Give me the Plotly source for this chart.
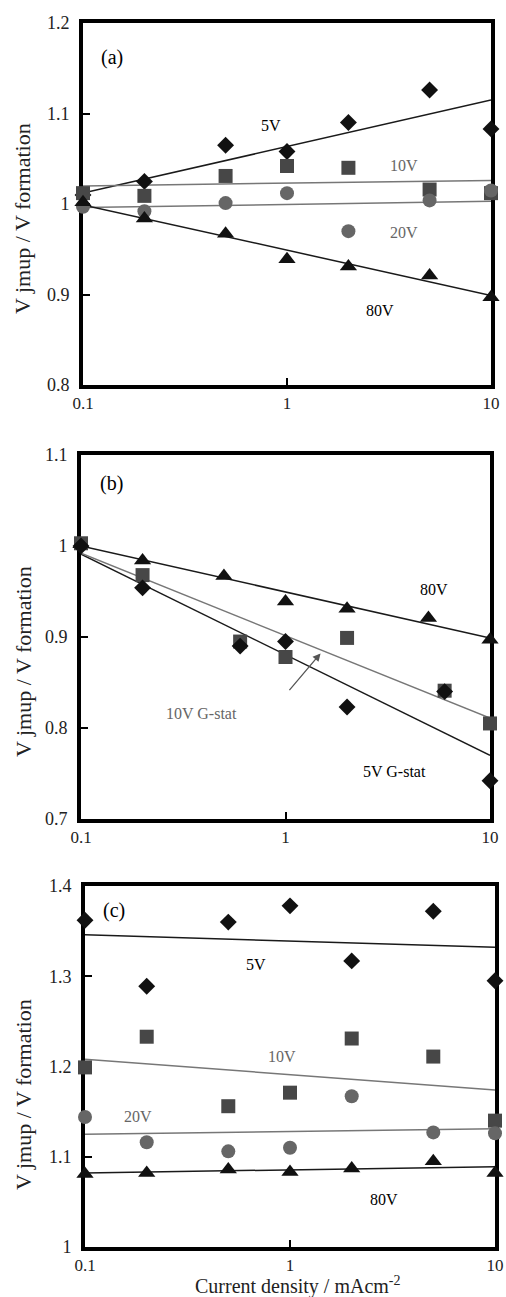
import numpy as np
import plotly.graph_objects as go

# ---------------- data ----------------
x_std = [0.1, 0.2, 0.5, 1, 2, 5, 10]
x_gstat = [0.1, 0.2, 0.6, 1, 2, 6, 10]
fit_x = [0.1, 10]
x_ticks = [0.1, 1, 10]
x_ticktext = ["0.1", "1", "10"]

# panel (a)
a_5V = [1.010, 1.025, 1.065, 1.058, 1.090, 1.126, 1.083]
a_10V = [1.012, 1.009, 1.031, 1.042, 1.040, 1.016, 1.012]
a_20V = [0.997, 0.992, 1.001, 1.012, 0.970, 1.004, 1.015]
a_80V = [1.002, 0.984, 0.967, 0.939, 0.931, 0.921, 0.897]
a_fit_5V = [1.012, 1.115]
a_fit_10V = [1.020, 1.026]
a_fit_20V = [0.996, 1.003]
a_fit_80V = [0.999, 0.899]

# panel (b)
b_5V = [1.000, 0.954, 0.890, 0.895, 0.823, 0.840, 0.742]
b_10V = [1.003, 0.968, 0.895, 0.878, 0.899, 0.841, 0.805]
b_80V = [1.002, 0.984, 0.967, 0.939, 0.931, 0.921, 0.897]
b_fit_5V = [0.991, 0.770]
b_fit_10V = [0.992, 0.811]
b_fit_80V = [1.000, 0.899]

# panel (c)
c_5V = [1.362, 1.289, 1.360, 1.378, 1.317, 1.372, 1.295]
c_10V = [1.199, 1.233, 1.156, 1.171, 1.231, 1.211, 1.140]
c_20V = [1.144, 1.116, 1.106, 1.110, 1.167, 1.127, 1.126]
c_80V = [1.081, 1.082, 1.086, 1.083, 1.087, 1.095, 1.082]
c_fit_5V = [1.346, 1.332]
c_fit_10V = [1.208, 1.174]
c_fit_20V = [1.125, 1.131]
c_fit_80V = [1.082, 1.089]

# ---------------- style ----------------
FONT = "Liberation Serif"
BLACK = "#111111"
DARK = "#474747"
MID = "#666666"
LINE_DARK = "#1a1a1a"
LINE_GRAY = "#777777"
TXT_GRAY = "#666666"

fig = go.Figure()


def add_line(xa, ya, y, color):
    fig.add_trace(go.Scatter(x=fit_x, y=y, mode="lines", xaxis=xa, yaxis=ya,
                             line=dict(color=color, width=1.5),
                             hoverinfo="skip", showlegend=False))


def add_pts(xa, ya, x, y, symbol, color, size):
    fig.add_trace(go.Scatter(x=x, y=y, mode="markers", xaxis=xa, yaxis=ya,
                             cliponaxis=False,
                             marker=dict(symbol=symbol, color=color, size=size,
                                         line=dict(width=0)),
                             showlegend=False))


# panel a
add_line("x", "y", a_fit_5V, LINE_DARK)
add_line("x", "y", a_fit_10V, LINE_GRAY)
add_line("x", "y", a_fit_20V, LINE_GRAY)
add_line("x", "y", a_fit_80V, LINE_DARK)
add_pts("x", "y", x_std, a_5V, "diamond", BLACK, 13)
add_pts("x", "y", x_std, a_10V, "square", DARK, 14)
add_pts("x", "y", x_std, a_20V, "circle", MID, 14)
add_pts("x", "y", x_std, a_80V, "triangle-up", BLACK, 15)

# panel b
add_line("x2", "y2", b_fit_5V, LINE_DARK)
add_line("x2", "y2", b_fit_10V, LINE_GRAY)
add_line("x2", "y2", b_fit_80V, LINE_DARK)
add_pts("x2", "y2", x_std, b_80V, "triangle-up", BLACK, 15)
add_pts("x2", "y2", x_gstat, b_10V, "square", DARK, 14)
add_pts("x2", "y2", x_gstat, b_5V, "diamond", BLACK, 13)

# panel c
add_line("x3", "y3", c_fit_5V, LINE_DARK)
add_line("x3", "y3", c_fit_10V, LINE_GRAY)
add_line("x3", "y3", c_fit_20V, LINE_GRAY)
add_line("x3", "y3", c_fit_80V, LINE_DARK)
add_pts("x3", "y3", x_std, c_5V, "diamond", BLACK, 13)
add_pts("x3", "y3", x_std, c_10V, "square", DARK, 14)
add_pts("x3", "y3", x_std, c_20V, "circle", MID, 14)
add_pts("x3", "y3", x_std, c_80V, "triangle-up", BLACK, 15)

W, H = 506, 1297


def xax(l, r, anchor):
    return dict(type="log", range=[-1, 1], domain=[l / W, r / W], anchor=anchor,
                tickvals=x_ticks, ticktext=x_ticktext, ticks="inside", ticklen=7,
                tickwidth=1.5, tickcolor="black", showline=True, linewidth=4,
                linecolor="black", mirror=True, showgrid=False, zeroline=False,
                layer="below traces", automargin=False,
                tickfont=dict(family=FONT, size=17, color="#222"))


def yax(top, bottom, rng, anchor):
    return dict(range=rng, domain=[1 - bottom / H, 1 - top / H], anchor=anchor,
                dtick=0.1, tick0=0, ticks="inside", ticklen=7, tickwidth=1.5,
                tickcolor="black", showline=True, linewidth=4, linecolor="black",
                mirror=True, showgrid=False, zeroline=False, layer="below traces",
                ticklabelstandoff=6, automargin=False,
                tickfont=dict(family=FONT, size=18, color="#222"))


fig.update_layout(
    width=W, height=H,
    margin=dict(l=0, r=0, t=0, b=0),
    paper_bgcolor="white", plot_bgcolor="white",
    showlegend=False,
    xaxis=xax(83, 491, "y"),
    yaxis=yax(23, 385, [0.8, 1.2], "x"),
    xaxis2=xax(81, 490, "y2"),
    yaxis2=yax(455, 819, [0.7, 1.1], "x2"),
    xaxis3=xax(85, 495, "y3"),
    yaxis3=yax(886, 1247, [1.0, 1.4], "x3"),
    font=dict(family=FONT, color="black"),
)

# text labels (x in data units, converted to log for annotation placement)
labels = [
    ("x", "y", 0.138, 1.162, "(a)", 20, "black"),
    ("x", "y", 0.838, 1.087, "5V", 16, "black"),
    ("x", "y", 3.73, 1.042, "10V", 16, TXT_GRAY),
    ("x", "y", 3.73, 0.969, "20V", 16, TXT_GRAY),
    ("x", "y", 2.85, 0.882, "80V", 16, "black"),
    ("x2", "y2", 0.141, 1.069, "(b)", 20, "black"),
    ("x2", "y2", 5.33, 0.952, "80V", 16, "black"),
    ("x2", "y2", 0.39, 0.816, "10V G-stat", 16, TXT_GRAY),
    ("x2", "y2", 3.4, 0.752, "5V G-stat", 16, "black"),
    ("x3", "y3", 0.138, 1.373, "(c)", 20, "black"),
    ("x3", "y3", 0.68, 1.3135, "5V", 16, "black"),
    ("x3", "y3", 0.917, 1.2115, "10V", 16, TXT_GRAY),
    ("x3", "y3", 0.182, 1.145, "20V", 16, TXT_GRAY),
    ("x3", "y3", 2.88, 1.053, "80V", 16, "black"),
]
for xr, yr, xv, yv, txt, sz, col in labels:
    fig.add_annotation(xref=xr, yref=yr, x=np.log10(xv), y=yv, text=txt,
                       showarrow=False, font=dict(family=FONT, size=sz, color=col))

# arrow in panel (b)
arrow_tail = (1.03, 0.840)
arrow_head = (1.484, 0.882)
fig.add_annotation(xref="x2", yref="y2", axref="x2", ayref="y2",
                   x=np.log10(arrow_head[0]), y=arrow_head[1],
                   ax=np.log10(arrow_tail[0]), ay=arrow_tail[1],
                   text="", showarrow=True, arrowhead=2, arrowsize=1.2,
                   arrowwidth=1.3, arrowcolor="#555555")

# axis titles
ytitle = "V jmup / V formation"
for yc in [219, 662, 1095]:
    fig.add_annotation(xref="paper", yref="paper", x=23 / W, y=1 - yc / H,
                       text=ytitle, textangle=-90, showarrow=False,
                       xanchor="center", yanchor="middle",
                       font=dict(family=FONT, size=22, color="#222"))
fig.add_annotation(xref="paper", yref="paper", x=298 / W, y=0,
                   text="Current density / mAcm<sup>-2</sup>", showarrow=False,
                   xanchor="center", yanchor="bottom", yshift=-3,
                   font=dict(family=FONT, size=20, color="#222"))

fig.write_html(
    "out.html",
    config={"displayModeBar": False},
    post_script="document.body.style.margin='0';document.body.style.overflow='hidden';",
)
